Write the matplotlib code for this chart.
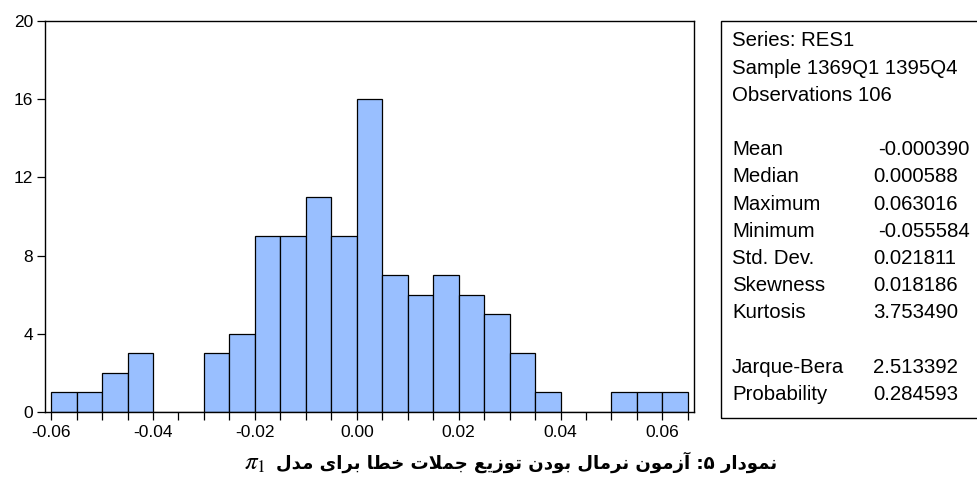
import numpy as np
import matplotlib
matplotlib.use("Agg")
import matplotlib.pyplot as plt
from matplotlib.patches import Rectangle
from matplotlib.ticker import FixedLocator, MultipleLocator

# ---------------- data ----------------
bin_start = -0.060
bin_width = 0.005
counts = [1, 1, 2, 3, 0, 0, 3, 4, 9, 9, 11, 9, 16, 7, 6, 7, 6, 5, 3, 1, 0, 0, 1, 1, 1]

x_ticks = [-0.06, -0.04, -0.02, 0.00, 0.02, 0.04, 0.06]
x_tick_labels = ["-0.06", "-0.04", "-0.02", "0.00", "0.02", "0.04", "0.06"]
y_ticks = [0, 4, 8, 12, 16, 20]
y_tick_labels = ["0", "4", "8", "12", "16", "20"]

header_lines = ["Series: RES1", "Sample 1369Q1 1395Q4", "Observations 106"]
stat_names = ["Mean", "Median", "Maximum", "Minimum", "Std. Dev.", "Skewness", "Kurtosis"]
stat_values = ["-0.000390", "0.000588", "0.063016", "-0.055584", "0.021811", "0.018186", "3.753490"]
test_names = ["Jarque-Bera", "Probability"]
test_values = ["2.513392", "0.284593"]

caption_fa = "نمودار ۵: آزمون نرمال بودن توزیع جملات خطا برای مدل"
caption_math = r"$\pi_{\mathit{1}}$"

# ---------------- Persian shaping (presentation forms, visual order) ----------------
FORMS = {
    '\u0627': ('\uFE8D', '\uFE8E', None, None),
    '\u0622': ('\uFE81', '\uFE82', None, None),
    '\u0628': ('\uFE8F', '\uFE90', '\uFE91', '\uFE92'),
    '\u062A': ('\uFE95', '\uFE96', '\uFE97', '\uFE98'),
    '\u062C': ('\uFE9D', '\uFE9E', '\uFE9F', '\uFEA0'),
    '\u062E': ('\uFEA5', '\uFEA6', '\uFEA7', '\uFEA8'),
    '\u062F': ('\uFEA9', '\uFEAA', None, None),
    '\u0631': ('\uFEAD', '\uFEAE', None, None),
    '\u0632': ('\uFEAF', '\uFEB0', None, None),
    '\u0637': ('\uFEC1', '\uFEC2', '\uFEC3', '\uFEC4'),
    '\u0639': ('\uFEC9', '\uFECA', '\uFECB', '\uFECC'),
    '\u0644': ('\uFEDD', '\uFEDE', '\uFEDF', '\uFEE0'),
    '\u0645': ('\uFEE1', '\uFEE2', '\uFEE3', '\uFEE4'),
    '\u0646': ('\uFEE5', '\uFEE6', '\uFEE7', '\uFEE8'),
    '\u0648': ('\uFEED', '\uFEEE', None, None),
    '\u06CC': ('\uFBFC', '\uFBFD', '\uFBFE', '\uFBFF'),
}
LAM_ALEF = {'\u0627': ('\uFEFB', '\uFEFC'), '\u0622': ('\uFEF5', '\uFEF6')}


def joins_next(c):
    f = FORMS.get(c)
    return f is not None and f[2] is not None


def shape(text):
    out = []
    n = len(text)
    i = 0
    while i < n:
        c = text[i]
        if c not in FORMS:
            out.append(c)
            i += 1
            continue
        prev = text[i - 1] if i > 0 else None
        pj = prev is not None and joins_next(prev)
        if c == '\u0644' and i + 1 < n and text[i + 1] in LAM_ALEF:
            iso, fin = LAM_ALEF[text[i + 1]]
            out.append(fin if pj else iso)
            i += 2
            continue
        nxt = text[i + 1] if i + 1 < n else None
        nj = nxt in FORMS and joins_next(c)
        iso, fin, ini, med = FORMS[c]
        if pj and nj:
            out.append(med)
        elif pj:
            out.append(fin)
        elif nj:
            out.append(ini)
        else:
            out.append(iso)
        i += 1
    return ''.join(out)[::-1]


# ---------------- figure ----------------
W, H = 978, 478
fig = plt.figure(figsize=(W / 100, H / 100), dpi=100)
plt.rcParams['mathtext.fontset'] = 'stix'

ax = fig.add_axes([45 / W, 1 - 412 / H, (694 - 45) / W, (412 - 21) / H])

edges = bin_start + bin_width * np.arange(len(counts) + 1)
ax.bar(edges[:-1], counts, width=bin_width, align='edge',
       color='#99BFFF', edgecolor='black', linewidth=0.9, zorder=2)

ax.set_xlim(-0.0612, 0.0662)
ax.set_ylim(0, 20)

ax.xaxis.set_major_locator(FixedLocator(x_ticks))
ax.set_xticklabels(x_tick_labels)
ax.xaxis.set_minor_locator(MultipleLocator(bin_width))
ax.yaxis.set_major_locator(FixedLocator(y_ticks))
ax.set_yticklabels(y_tick_labels)

for lab in ax.get_xticklabels() + ax.get_yticklabels():
    lab.set_fontfamily('Liberation Sans')
    lab.set_fontsize(12.5)

ax.tick_params(axis='x', which='both', direction='out', length=5.5, width=0.9, pad=4)
ax.tick_params(axis='y', which='major', direction='out', length=5.5, width=0.9, pad=3)
ax.tick_params(top=False, right=False)
for sp in ax.spines.values():
    sp.set_linewidth(1.0)
    sp.set_color('black')

# ---------------- statistics box ----------------
fig.patches.append(Rectangle((720.5 / W, 1 - 418 / H), 0.4, (418 - 21) / H,
                             transform=fig.transFigure, fill=False,
                             edgecolor='black', linewidth=1.0))

stat_font = dict(family='Liberation Sans', size=14.7, va='center', ha='left')
y0, step = 41, 27.2
x_lab, x_val, x_val_neg = 732, 873, 878

row = 0
for line in header_lines:
    fig.text(x_lab / W, 1 - (y0 + row * step) / H, line, **stat_font)
    row += 1
row += 1
for name, val in zip(stat_names, stat_values):
    y = 1 - (y0 + row * step) / H
    fig.text(x_lab / W, y, name, **stat_font)
    xv = x_val_neg if val.startswith('-') else x_val
    fig.text(xv / W, y, val, **stat_font)
    row += 1
row += 1
for name, val in zip(test_names, test_values):
    y = 1 - (y0 + row * step) / H
    fig.text(x_lab / W, y, name, **stat_font)
    fig.text(x_val / W, y, val, **stat_font)
    row += 1

# ---------------- caption ----------------
fig.text(777 / W, 1 - 462 / H, shape(caption_fa), ha='right', va='center',
         family='DejaVu Sans', fontweight='bold', fontsize=13.1)
fig.text(244 / W, 1 - 463 / H, caption_math, ha='left', va='center',
         fontsize=18)

fig.savefig('out.png', dpi=100)
